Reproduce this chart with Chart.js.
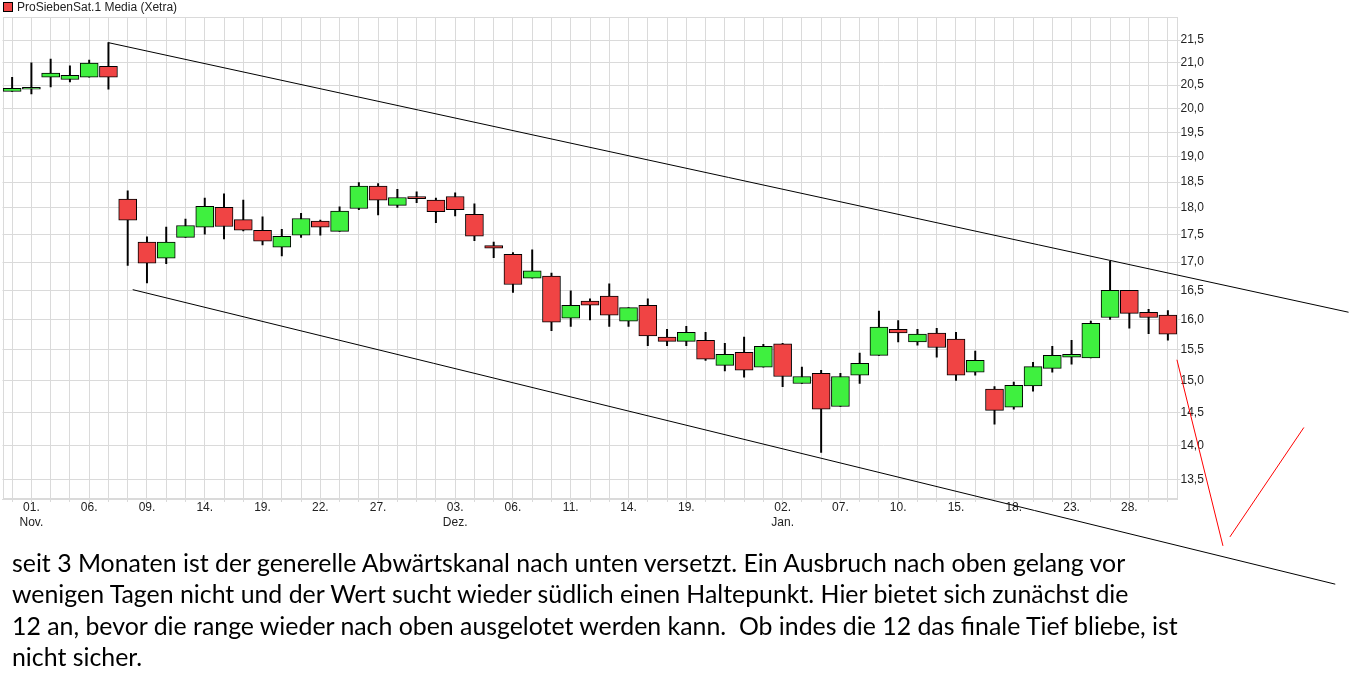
<!DOCTYPE html>
<html lang="de">
<head>
<meta charset="utf-8">
<title>ProSiebenSat.1 Media (Xetra)</title>
<script src="https://cdn.jsdelivr.net/npm/chart.js@4.4.1/dist/chart.umd.min.js"></script>
<style>
  html, body { margin: 0; padding: 0; background: #fff; }
  #wrap { position: relative; width: 1367px; height: 700px; overflow: hidden; }
  #chart { position: absolute; left: 0; top: 0; }
  #legend { position: absolute; left: 3px; top: 0; font: 12px "Liberation Sans", Arial, sans-serif; color: #222; line-height: 14px; white-space: nowrap; }
  #legend i { display: inline-block; width: 8px; height: 8px; background: #f04444; border: 1px solid #000; margin-right: 4px; vertical-align: -1px; }
  #comment { position: absolute; left: 12px; top: 547px; font-family: Lato, "Open Sans", sans-serif; font-size: 22px; line-height: 31.3px; color: #000; }
  #comment div { white-space: pre; }
</style>
</head>
<body>
<div id="wrap">
  <canvas id="chart" width="1367" height="700"></canvas>
  <div id="legend"><i></i>ProSiebenSat.1 Media (Xetra)</div>
  <div id="comment">
    <div><span>seit 3 Monaten ist der generelle Abwärtskanal nach unten versetzt. Ein Ausbruch nach oben gelang vor</span></div>
    <div>wenigen Tagen nicht und der Wert sucht wieder südlich einen Haltepunkt. Hier bietet sich zunächst die</div>
    <div>12 an, bevor die range wieder nach oben ausgelotet werden kann.  Ob indes die 12 das finale Tief bliebe, ist</div>
    <div>nicht sicher.</div>
  </div>
</div>
<script>
  // Tageskerzen (Xetra), eine pro Handelstag
  const openVals = [
    20.36, 20.41, 20.67, 20.62, 20.67, 20.91, 18.17, 17.36, 17.07, 17.45,
    17.64, 18.01, 17.78, 17.58, 17.27, 17.49, 17.75, 17.56, 17.99, 18.42,
    18.05, 18.22, 18.15, 18.22, 17.88, 17.30, 17.14, 16.71, 16.75, 16.02,
    16.31, 16.40, 15.97, 16.24, 15.70, 15.63, 15.65, 15.24, 15.45, 15.21,
    15.59, 14.95, 15.11, 14.59, 15.08, 15.40, 15.83, 15.62, 15.77, 15.67,
    15.13, 14.86, 14.58, 14.91, 15.19, 15.37, 15.36, 16.03, 16.50, 16.12,
    16.07
  ];
  const highVals = [
    20.67, 20.99, 21.07, 20.92, 21.05, 21.44, 18.33, 17.46, 17.64, 17.79,
    18.19, 18.27, 18.15, 17.83, 17.60, 17.90, 17.77, 18.02, 18.49, 18.47,
    18.36, 18.31, 18.19, 18.29, 18.08, 17.36, 17.17, 17.22, 16.80, 16.49,
    16.35, 16.61, 16.20, 16.35, 15.83, 15.88, 15.78, 15.60, 15.70, 15.58,
    15.60, 15.21, 15.16, 15.11, 15.44, 16.14, 15.98, 15.83, 15.85, 15.78,
    15.47, 14.90, 14.97, 15.29, 15.55, 15.65, 15.97, 17.01, 16.50, 16.17,
    16.15
  ];
  const lowVals = [
    20.36, 20.31, 20.46, 20.57, 20.67, 20.41, 16.94, 16.63, 16.97, 17.45,
    17.51, 17.42, 17.57, 17.31, 17.11, 17.45, 17.49, 17.56, 17.97, 17.87,
    18.01, 18.10, 17.72, 17.85, 17.39, 17.08, 16.46, 16.71, 15.81, 15.88,
    15.99, 15.88, 15.88, 15.56, 15.56, 15.56, 15.32, 15.15, 15.05, 15.21,
    14.90, 14.95, 13.90, 14.59, 14.95, 15.40, 15.62, 15.57, 15.37, 15.00,
    15.08, 14.32, 14.55, 14.83, 15.13, 15.26, 15.36, 16.00, 15.85, 15.76,
    15.65
  ];
  const closeVals = [
    20.43, 20.45, 20.76, 20.71, 20.98, 20.67, 17.77, 16.98, 17.36, 17.67,
    18.03, 17.65, 17.58, 17.38, 17.47, 17.80, 17.64, 17.94, 18.42, 18.15,
    18.20, 18.18, 17.93, 17.97, 17.47, 17.25, 16.60, 16.84, 15.95, 16.24,
    16.24, 16.07, 16.20, 15.72, 15.63, 15.78, 15.34, 15.42, 15.16, 15.55,
    15.06, 15.06, 14.55, 15.06, 15.27, 15.87, 15.77, 15.75, 15.53, 15.08,
    15.32, 14.53, 14.92, 15.22, 15.40, 15.42, 15.93, 16.50, 16.10, 16.03,
    15.75
  ];

  // Datumsbeschriftung der x-Achse (Kerzenindex -> Text)
  const tickIndex = [1, 4, 7, 10, 13, 16, 19, 23, 26, 29, 32, 35, 40, 43, 46, 49, 52, 55, 58];
  const tickDay = ['01.', '06.', '09.', '14.', '19.', '22.', '27.', '03.', '06.', '11.', '14.', '19.', '02.', '07.', '10.', '15.', '18.', '23.', '28.'];
  const tickMonth = { 1: 'Nov.', 23: 'Dez.', 40: 'Jan.' };

  // Kursachse
  const yTicks = [13.5, 14, 14.5, 15, 15.5, 16, 16.5, 17, 17.5, 18, 18.5, 19, 19.5, 20, 20.5, 21, 21.5];
  const yMin = 13.23;
  const yMax = 22.03;

  // eingezeichnete Linien: [Kerzenindex, Kurs]
  const channelTop = [[5, 21.44], [69.38, 16.12]];
  const channelBottom = [[6.26, 16.51], [68.69, 12.09]];
  const breakDown = [[60.47, 15.33], [62.86, 12.59]];
  const breakUp = [[63.22, 12.71], [67.06, 14.27]];

  const gridColor = '#dadada';
  const fontFamily = '"Liberation Sans", Arial, sans-serif';

  const xLabels = openVals.map(function (_, i) {
    const k = tickIndex.indexOf(i);
    if (k < 0) return '';
    return tickMonth[i] ? [tickDay[k], tickMonth[i]] : tickDay[k];
  });
  const bodies = openVals.map(function (o, i) { return [o, closeVals[i]]; });
  const wicks = lowVals.map(function (l, i) { return [l, highVals[i]]; });
  const bodyColors = openVals.map(function (o, i) {
    return closeVals[i] >= o ? '#3ff03f' : '#f04444';
  });

  const frame = {
    id: 'frame',
    beforeDatasetsDraw(chart) {
      const { ctx, chartArea: a } = chart;
      ctx.save();
      ctx.strokeStyle = gridColor;
      ctx.lineWidth = 1;
      ctx.strokeRect(Math.round(a.left) + 0.5, Math.round(a.top) + 0.5,
        Math.round(a.right) - Math.round(a.left) - 1, Math.round(a.bottom) - Math.round(a.top) - 1);
      ctx.restore();
    }
  };

  const trendLines = {
    id: 'trendLines',
    afterDraw(chart) {
      const { ctx } = chart;
      const x = chart.scales.x;
      const y = chart.scales.y;
      const lines = [
        [channelTop, '#000'],
        [channelBottom, '#000'],
        [breakDown, '#ff0000'],
        [breakUp, '#ff0000']
      ];
      ctx.save();
      ctx.lineWidth = 1;
      lines.forEach(function (line) {
        ctx.strokeStyle = line[1];
        ctx.beginPath();
        line[0].forEach(function (p, k) {
          const px = x.getPixelForValue(p[0]);
          const py = y.getPixelForValue(p[1]);
          if (k) ctx.lineTo(px, py); else ctx.moveTo(px, py);
        });
        ctx.stroke();
      });
      ctx.restore();
    }
  };

  new Chart(document.getElementById('chart'), {
    type: 'bar',
    data: {
      labels: xLabels,
      datasets: [
        {
          label: 'ProSiebenSat.1 Media (Xetra)',
          data: bodies,
          backgroundColor: bodyColors,
          borderColor: '#000',
          borderWidth: 1,
          borderSkipped: false,
          barThickness: 18,
          grouped: false
        },
        {
          label: 'Hoch/Tief',
          data: wicks,
          backgroundColor: '#000',
          borderWidth: 0,
          barThickness: 1.3,
          grouped: false
        }
      ]
    },
    options: {
      responsive: false,
      devicePixelRatio: 1,
      animation: false,
      layout: { padding: { left: 2.5, top: 17, right: 159.5, bottom: 171 } },
      scales: {
        x: {
          offset: true,
          afterFit: function (s) { s.height = 30; },
          grid: { offset: false, color: gridColor, tickLength: 3 },
          border: { color: gridColor },
          ticks: {
            autoSkip: false,
            maxRotation: 0,
            padding: -2,
            color: '#222',
            font: { family: fontFamily, size: 12, lineHeight: 1.25 }
          }
        },
        y: {
          type: 'logarithmic',
          position: 'right',
          min: yMin,
          max: yMax,
          afterBuildTicks: function (s) {
            s.ticks = yTicks.map(function (v) { return { value: v }; });
          },
          afterFit: function (s) { s.width = 30; },
          grid: { color: gridColor, tickLength: 3 },
          border: { color: gridColor },
          ticks: {
            padding: 0,
            color: '#222',
            font: { family: fontFamily, size: 12 },
            callback: function (v) { return Number(v).toFixed(1).replace('.', ','); }
          }
        }
      },
      plugins: {
        legend: { display: false },
        tooltip: { enabled: false }
      }
    },
    plugins: [frame, trendLines]
  });

  // Kommentartext auf die Breite der Vorlage bringen
  const firstLine = document.querySelector('#comment span');
  const w = firstLine.getBoundingClientRect().width;
  if (w > 0) {
    document.getElementById('comment').style.fontSize = (22 * 1113 / w).toFixed(2) + 'px';
  }
</script>
</body>
</html>
